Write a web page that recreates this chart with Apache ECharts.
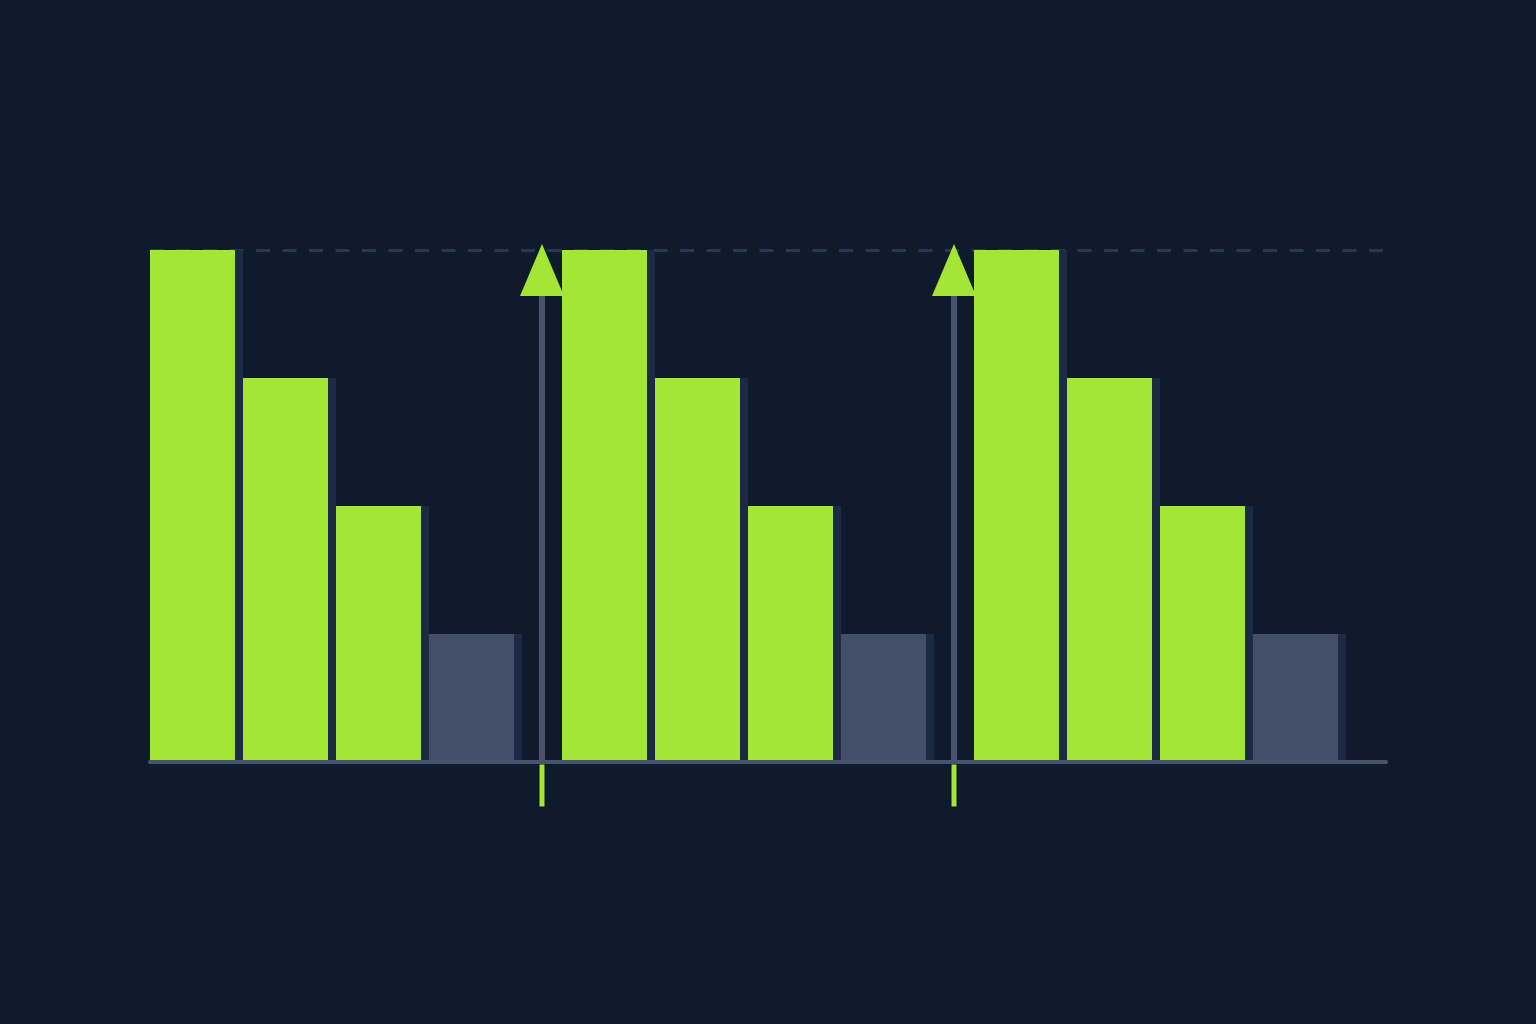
<!DOCTYPE html>
<html>
<head>
<meta charset="utf-8">
<title>Grouped bars</title>
<script src="https://cdn.jsdelivr.net/npm/echarts@6/dist/echarts.min.js"></script>
<style>
    html, body { margin: 0; padding: 0; background: #0f1b2d; }
    #chart { width: 1536px; height: 1024px; }
</style>
</head>
<body>
<div id="chart"></div>
<script>
// three repeated groups of four bars
const groups = ['A', 'B', 'C'];
const tier1 = [4, 4, 4];
const tier2 = [3, 3, 3];
const tier3 = [2, 2, 2];
const tier4 = [1, 1, 1];
// divider after a group (none after the last one)
const dividers = [4, 4, '-'];

const green = '#a3e635';
const slate = '#434f69';
const shade = '#1c2a45';
const barW = 85;
const spacerW = 40;

function barSeries(name, data, color) {
    return {
        name: name,
        type: 'bar',
        data: data,
        barWidth: barW,
        barGap: (8 / barW * 100) + '%',
        itemStyle: {
            color: color,
            shadowColor: shade,
            shadowBlur: 0,
            shadowOffsetX: 8,
            shadowOffsetY: 0
        },
        z: 3
    };
}

window.onload = () => {
    let chart = echarts.init(document.getElementById('chart'));

    let option = {
        backgroundColor: '#0f1b2d',
        animation: false,
        grid: { left: 150, right: 150, top: 250, bottom: 262 },
        xAxis: {
            type: 'category',
            data: groups,
            axisLine: { lineStyle: { color: '#48536e', width: 4 } },
            axisTick: { show: false },
            axisLabel: { show: false },
            splitLine: { show: false },
            z: 5
        },
        yAxis: {
            type: 'value',
            min: 0,
            max: 4,
            interval: 4,
            axisLine: { show: false },
            axisTick: { show: false },
            axisLabel: { show: false },
            splitLine: { lineStyle: { color: '#2a3752', width: 3, type: [14, 12.5] } }
        },
        series: [
            barSeries('tier1', tier1, green),
            barSeries('tier2', tier2, green),
            barSeries('tier3', tier3, green),
            barSeries('tier4', tier4, slate),
            {
                name: 'spacer',
                type: 'bar',
                data: groups.map(() => '-'),
                barWidth: spacerW,
                barGap: (8 / barW * 100) + '%',
                silent: true
            },
            {
                name: 'divider',
                type: 'custom',
                data: dividers.map((v, i) => [i, v]),
                encode: { x: 0, y: 1 },
                clip: false,
                z: 4,
                renderItem: (params, api) => {
                    let v = api.value(1);
                    if (isNaN(v)) {
                        return;
                    }
                    let top = api.coord([api.value(0), v]);
                    let base = api.coord([api.value(0), 0]);
                    let x = top[0] + api.size([1, 0])[0] / 2 - spacerW / 2;
                    let tipY = top[1] - 6;
                    let triBase = tipY + 52;
                    return {
                        type: 'group',
                        children: [
                            {
                                type: 'rect',
                                shape: { x: x - 3, y: triBase, width: 6, height: base[1] - triBase },
                                style: { fill: '#48536e' }
                            },
                            {
                                type: 'polygon',
                                shape: { points: [[x, tipY], [x - 22, triBase], [x + 22, triBase]] },
                                style: { fill: green }
                            },
                            {
                                type: 'rect',
                                shape: { x: x - 3, y: base[1] + 2, width: 6, height: 43 },
                                style: { fill: green, stroke: '#0b1424', lineWidth: 1 },
                                z2: 10
                            }
                        ]
                    };
                }
            }
        ]
    };

    option && chart.setOption(option);
};
</script>
</body>
</html>
